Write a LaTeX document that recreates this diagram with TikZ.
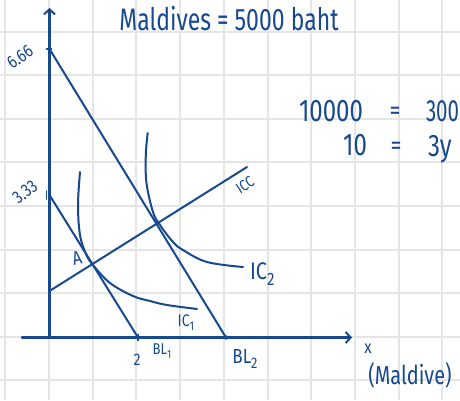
\documentclass[tikz,border=0pt]{standalone}
\usepackage{fontspec}
\usepackage{graphicx}
\setmainfont{Fira Sans}
\usetikzlibrary{arrows.meta}
\definecolor{ink}{RGB}{22,73,143}
\definecolor{gridc}{RGB}{229,229,229}
\newcommand\hw[3]{{\fontsize{#1}{#1}\selectfont\scalebox{1}[#2]{#3}}}
\newcommand\lowsub[1]{\raisebox{-0.45ex}{\scalebox{0.75}{#1}}}
\tikzset{
  ink line/.style={draw=ink, line width=2pt, line cap=round, line join=round},
  axis line/.style={draw=ink, line width=2.4pt, line cap=round},
  grid line/.style={draw=gridc, line width=2pt},
  lbl/.style={text=ink, inner sep=0pt, outer sep=0pt},
  tip/.style={-{Straight Barb[length=5pt,width=11pt,line width=2pt]}}
}
\begin{document}
\begin{tikzpicture}[x=1pt,y=-1pt]
\useasboundingbox[fill=white] (0,0) rectangle (460,400);
% grid
\begin{scope}
\clip (0,0) rectangle (460,400);
\foreach \k in {0,...,10} \draw[grid line] ({5.3+43.7*\k},0) -- ({5.3+43.7*\k},400);
\foreach \k in {-1,...,7} \draw[grid line] (0,{336.7-43.6*\k}) -- (460,{336.7-43.6*\k});
\end{scope}
% named points
\coordinate (O) at (49.5,337.5);
\coordinate (yTop) at (49.5,8);
\coordinate (xL) at (22,337.5);
\coordinate (xR) at (352,337.5);
\coordinate (B2y) at (49.5,49);
\coordinate (B2x) at (226,337.5);
\coordinate (B1y) at (49.5,195);
\coordinate (B1x) at (138,337.5);
\coordinate (I0) at (49.5,291);
\coordinate (I1) at (247,167);
% axes
\draw[axis line, tip] (O) -- (yTop);
\draw[axis line, tip] (xL) -- (xR);
% ticks
\draw[ink line, line width=1.6pt] ([xshift=-3pt]B2y) -- ([xshift=2pt]B2y);
\draw[ink line, line width=1.6pt] ([xshift=-3pt,yshift=-4pt]B1y) -- ([xshift=-3pt,yshift=4pt]B1y);
\draw[ink line, line width=1.6pt] ([yshift=-3pt]B1x) -- ([yshift=3pt]B1x);
\fill[ink] (B2x) circle (2.2pt);
% budget lines and ICC
\draw[ink line] (B2y) -- (B2x);
\draw[ink line] (B1y) -- (B1x);
\draw[ink line] (I0) -- (I1);
% indifference curves
\draw[ink line] plot[smooth, tension=0.6] coordinates {(80,172) (78,205) (80,235) (86,254) (93,265) (110,283) (133,296) (150,301) (167,305) (197,309)};
\draw[ink line] plot[smooth, tension=0.6] coordinates {(147.7,133) (145.8,155) (146.5,183) (153,212) (160,225) (173,242) (183,250) (207,262) (243,267)};
% labels
\node[lbl] (title) at (229,19) {\hw{23}{1.35}{Maldives = 5000 baht}};
\node[lbl, rotate=36] (l666) at (20,57) {\hw{15}{1.2}{6.66}};
\node[lbl, rotate=38] (l333) at (25,192) {\hw{15}{1.2}{3.33}};
\node[lbl, rotate=12] (lA) at (77,258) {\hw{16}{1.2}{A}};
\node[lbl, rotate=33] (lICC) at (245,185) {\hw{13}{1.2}{ICC}};
\node[lbl, anchor=west] (lIC2) at (250,274) {\hw{20}{1.2}{IC\lowsub{2}}};
\node[lbl] (lIC1) at (186,323) {\hw{14}{1.2}{IC\lowsub{1}}};
\node[lbl] (l2) at (137,360) {\hw{14}{1.2}{2}};
\node[lbl] (lBL1) at (162,351) {\hw{13}{1.2}{BL\lowsub{1}}};
\node[lbl] (lBL2) at (245,359) {\hw{17}{1.2}{BL\lowsub{2}}};
\node[lbl] (lx) at (368,349) {\hw{15}{1.2}{x}};
\node[lbl] (lMal) at (410,375) {\hw{20}{1.3}{(Maldive)}};
\node[lbl] (t1a) at (331,111) {\hw{24}{1.3}{10000}};
\node[lbl] (t1b) at (395,113) {\hw{22}{1.2}{=}};
\node[lbl, anchor=west] (t1c) at (426,111) {\hw{20.5}{1.5}{300}};
\node[lbl] (t2a) at (355,145) {\hw{24}{1.3}{10}};
\node[lbl] (t2b) at (396,148) {\hw{22}{1.2}{=}};
\node[lbl, anchor=west] (t2c) at (428,149) {\hw{24}{1.3}{3y}};
\end{tikzpicture}
\end{document}
